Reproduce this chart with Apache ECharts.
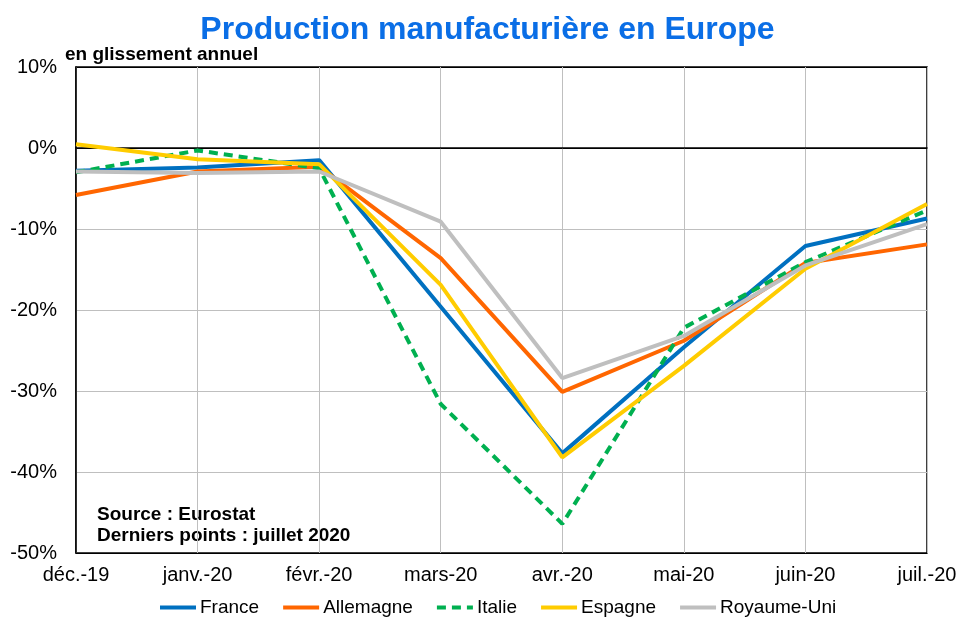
<!DOCTYPE html>
<html><head><meta charset="utf-8">
<script src="https://cdn.jsdelivr.net/npm/echarts@6/dist/echarts.min.js"></script>
<style>html,body{margin:0;padding:0;background:#fff}#c{width:975px;height:635px}</style>
</head><body><div id="c"></div>
<script>
const categories = ['déc.-19','janv.-20','févr.-20','mars-20','avr.-20','mai-20','juin-20','juil.-20'];
const france = [-2.8, -2.4, -1.5, -19.6, -37.7, -24.6, -12.1, -8.7];
const allemagne = [-5.8, -2.9, -2.3, -13.6, -30.1, -23.8, -14.2, -11.9];
const italie = [-3.0, -0.3, -2.5, -31.6, -46.4, -22.2, -14.1, -7.7];
const espagne = [0.45, -1.4, -2.0, -16.9, -38.2, -26.9, -14.9, -6.9];
const royaumeUni = [-2.9, -3.1, -2.9, -9.1, -28.4, -23.2, -14.5, -9.4];
const seriesNames = ['France','Allemagne','Italie','Espagne','Royaume-Uni'];
const seriesColors = ['#0070C0','#FF6600','#00B050','#FFCC00','#BFBFBF'];
const seriesData = [france, allemagne, italie, espagne, royaumeUni];

const chart = echarts.init(document.getElementById('c'), null, {renderer:'canvas'});
const font = 'Liberation Sans, Arial, sans-serif';
chart.setOption({
  animation:false,
  backgroundColor:'#fff',
  title:{text:'Production manufacturière en Europe', left:'center', top:9,
    textStyle:{color:'#0A6EE6', fontSize:32, fontWeight:'bold', fontFamily:font}},
  legend:{bottom:13, left:153, itemWidth:36, itemHeight:10, itemGap:22,
    itemStyle:{opacity:0},
    lineStyle:{width:4},
    textStyle:{fontSize:19, fontFamily:font, color:'#000', padding:[0,0,0,-1]},
    data:seriesNames},
  grid:{left:76, right:48, top:67, bottom:82, show:true, borderColor:'#000', borderWidth:1.5},
  xAxis:{type:'category', data:categories, boundaryGap:false,
    axisLine:{show:true, lineStyle:{color:'#000', width:1.5}},
    axisTick:{show:false},
    axisLabel:{fontSize:20, fontFamily:font, color:'#000', margin:12, interval:0},
    splitLine:{show:true, lineStyle:{color:'#BFBFBF', width:1}}},
  yAxis:{type:'value', min:-50, max:10, interval:10,
    axisLine:{show:true, lineStyle:{color:'#000', width:1.5}},
    axisTick:{show:false},
    axisLabel:{fontSize:20, fontFamily:font, color:'#000', margin:19, formatter:'{value}%'},
    splitLine:{show:true, lineStyle:{color:['#000','#BFBFBF','#BFBFBF','#BFBFBF','#BFBFBF','#000','#000'], width:1.2}}},
  graphic:[
    {type:'text', left:65, top:45, style:{text:'en glissement annuel', font:'bold 19px '+font, fill:'#000'}},
    {type:'text', left:97, top:505, style:{text:'Source : Eurostat', font:'bold 19px '+font, fill:'#000'}},
    {type:'text', left:97, top:526, style:{text:'Derniers points : juillet 2020', font:'bold 19px '+font, fill:'#000'}}
  ],
  series: seriesNames.map((n,i)=>({
    name:n, type:'line', data:seriesData[i], symbol:'none', smooth:false,
    color:seriesColors[i],
    lineStyle:{color:seriesColors[i], width:4, type: n==='Italie' ? [9,6] : 'solid'}
  }))
});
</script></body></html>
